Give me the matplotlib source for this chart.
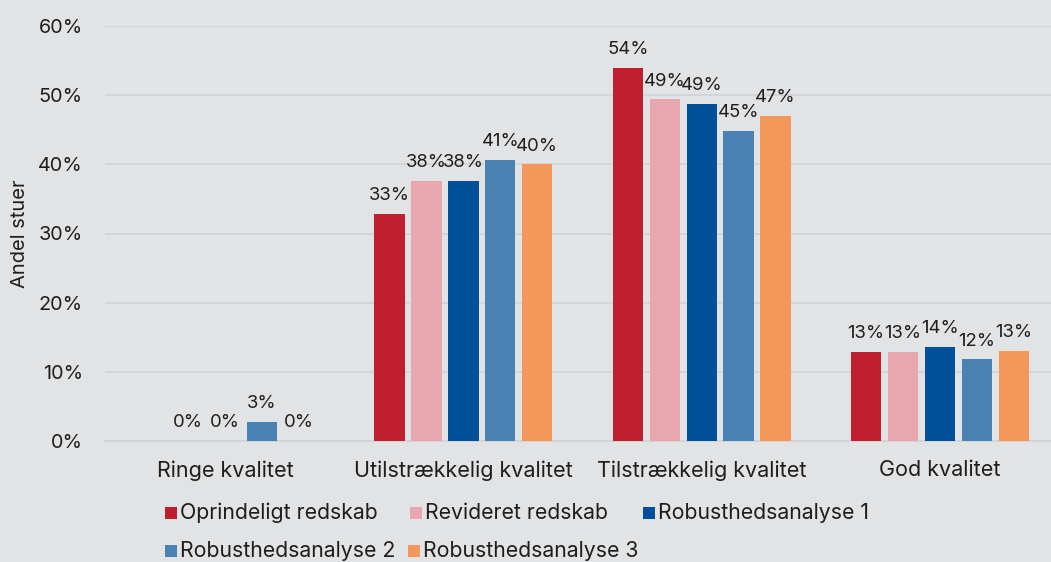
import numpy as np
import matplotlib
matplotlib.use("Agg")
import matplotlib.pyplot as plt
from matplotlib.patches import Rectangle

plt.rcParams['font.family'] = ['Inter', 'DejaVu Sans']

categories = ["Ringe kvalitet", "Utilstrækkelig kvalitet", "Tilstrækkelig kvalitet", "God kvalitet"]
series_names = ["Oprindeligt redskab", "Revideret redskab", "Robusthedsanalyse 1",
                "Robusthedsanalyse 2", "Robusthedsanalyse 3"]
oprindeligt = [np.nan, 32.8, 54.0, 12.9]
revideret = [0.0, 37.6, 49.4, 12.9]
robust1 = [0.0, 37.6, 48.7, 13.6]
robust2 = [2.8, 40.6, 44.8, 11.8]
robust3 = [0.0, 40.0, 47.0, 13.0]
series_values = [oprindeligt, revideret, robust1, robust2, robust3]
colors = ["#be1e2d", "#e8a7ae", "#004f9a", "#4a82b4", "#f4975a"]
yticks = [0, 10, 20, 30, 40, 50, 60]

bg = "#e2e3e5"
txt = "#1e1e1e"
W, H = 1051, 562
fig = plt.figure(figsize=(W / 100, H / 100), dpi=100, facecolor=bg)
ax = fig.add_axes([105 / W, 1 - 441 / H, 1 - 105 / W, (441 - 26) / H], facecolor=bg)

x = np.arange(len(categories))
step = 0.155
width = 0.127
for i, (vals, c) in enumerate(zip(series_values, colors)):
    pos = x + (i - 2) * step
    v = np.array(vals, dtype=float)
    ax.bar(pos, np.nan_to_num(v), width=width, color=c, zorder=3, edgecolor='none')
    for px, val in zip(pos, v):
        if np.isnan(val):
            continue
        ax.annotate(f"{val:.0f}%", (px, val), xytext=(0, 7), textcoords='offset points',
                    ha='center', va='bottom', fontsize=13.3, color=txt)

ax.set_ylim(0, 60)
ax.set_xlim(-0.504, 3.466)
ax.set_yticks(yticks)
ax.set_yticklabels([f"{t}%" for t in yticks], fontsize=14.3, color=txt)
ax.set_xticks(x)
ax.set_xticklabels(categories, fontsize=15.5, color=txt)
ax.tick_params(axis='y', length=0, pad=16)
ax.tick_params(axis='x', length=0, pad=14)
ax.grid(axis='y', color='#d2d3d6', linewidth=1.3, zorder=0)
for s in ['top', 'right', 'left']:
    ax.spines[s].set_visible(False)
ax.spines['bottom'].set_color('#d2d3d6')
ax.spines['bottom'].set_linewidth(1.3)
ax.set_ylabel("Andel stuer", fontsize=14.5, color=txt)
ax.yaxis.set_label_coords(-(105 - 20) / (W - 105), 0.5)
ax.yaxis.label.set_va('center')

# legend (flow layout)
legend_pos = [(165, 513), (410, 513), (643, 513), (165, 551), (408, 551)]
for (lx, ly), name, c in zip(legend_pos, series_names, colors):
    sq = 12
    fig.patches.append(Rectangle((lx / W, 1 - (ly + sq / 2) / H), sq / W, sq / H,
                                 transform=fig.transFigure, facecolor=c, edgecolor='none'))
    fig.text((lx + sq + 3) / W, 1 - ly / H, name, ha='left', va='center',
             fontsize=15.3, color=txt)

fig.savefig("out.png", dpi=100, facecolor=bg)
